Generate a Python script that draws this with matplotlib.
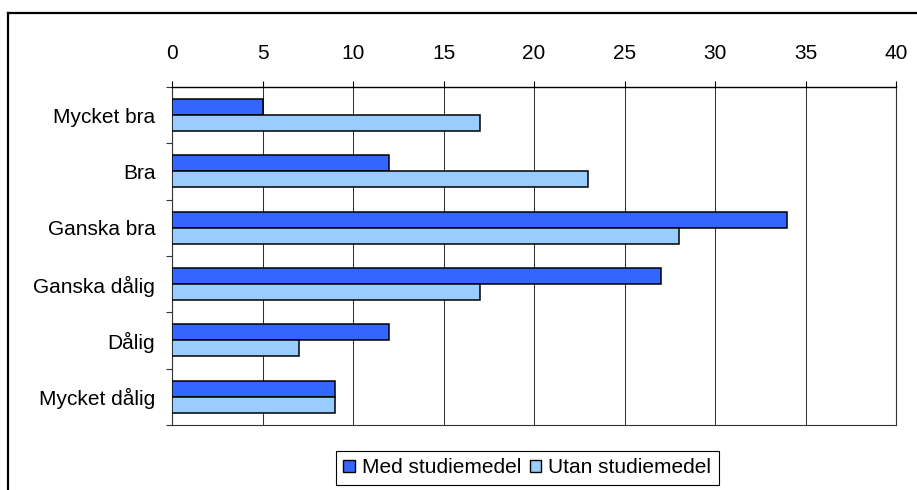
import matplotlib
matplotlib.use("Agg")
import matplotlib.pyplot as plt
import numpy as np
from matplotlib.lines import Line2D
from matplotlib.patches import Patch

plt.rcParams["font.family"] = ["Liberation Sans", "DejaVu Sans"]
plt.rcParams["font.size"] = 15

categories = ["Mycket bra", "Bra", "Ganska bra", "Ganska dålig", "Dålig", "Mycket dålig"]
med_studiemedel = [5, 12, 34, 27, 12, 9]
utan_studiemedel = [17, 23, 28, 17, 7, 9]
series_labels = ["Med studiemedel", "Utan studiemedel"]
x_ticks = [0, 5, 10, 15, 20, 25, 30, 35, 40]

color_med = "#3366FF"
color_utan = "#99CCFF"

fig = plt.figure(figsize=(9.17, 4.9), dpi=100)
ax = fig.add_axes([0.1876, 0.1327, 0.7895, 0.6898])

y = np.arange(len(categories))
h = 0.284
ax.barh(y - h / 2, med_studiemedel, height=h, color=color_med,
        edgecolor="black", linewidth=1.1, zorder=3)
ax.barh(y + h / 2, utan_studiemedel, height=h, color=color_utan,
        edgecolor="black", linewidth=1.1, zorder=3)

ax.set_xlim(0, 40)
ax.set_ylim(len(categories) - 0.5, -0.5)

# x axis on top
ax.xaxis.tick_top()
ax.set_xticks(x_ticks)
ax.set_xticklabels([str(v) for v in x_ticks])
ax.tick_params(axis="x", which="major", direction="out", length=4.3, width=0.8,
               pad=13, color="black")
ax.xaxis.grid(True, color="#333333", linewidth=0.75, zorder=0)

# y labels at category centers, tick marks between categories
ax.set_yticks(y)
ax.set_yticklabels(categories)
ax.tick_params(axis="y", which="major", length=0, pad=12)
ax.set_yticks(np.arange(-0.5, len(categories) + 0.5, 1), minor=True)
ax.tick_params(axis="y", which="minor", direction="out", length=4.3, width=0.8,
               color="#333333")

ax.spines["top"].set_color("black")
ax.spines["top"].set_linewidth(1.0)
for side in ["bottom", "right", "left"]:
    ax.spines[side].set_color("#333333")
    ax.spines[side].set_linewidth(0.8)

handles = [
    Patch(facecolor=color_med, edgecolor="black", linewidth=1.0, label=series_labels[0]),
    Patch(facecolor=color_utan, edgecolor="black", linewidth=1.0, label=series_labels[1]),
]
leg = fig.legend(handles=handles, loc="center", bbox_to_anchor=(0.575, 0.045),
                 ncol=2, fancybox=False, framealpha=1, edgecolor="black",
                 handlelength=0.55, handleheight=0.55, handletextpad=0.35,
                 columnspacing=0.4, borderpad=0.35, fontsize=15)
leg.get_frame().set_linewidth(0.8)

# outer chart frame (runs off the right and bottom edges)
fig.add_artist(Line2D([8 / 917, 1.0], [1 - 13 / 490, 1 - 13 / 490],
                      transform=fig.transFigure, color="black", linewidth=1.6))
fig.add_artist(Line2D([8 / 917, 8 / 917], [0.0, 1 - 13 / 490],
                      transform=fig.transFigure, color="black", linewidth=1.6))

fig.savefig("out.png", dpi=100)
